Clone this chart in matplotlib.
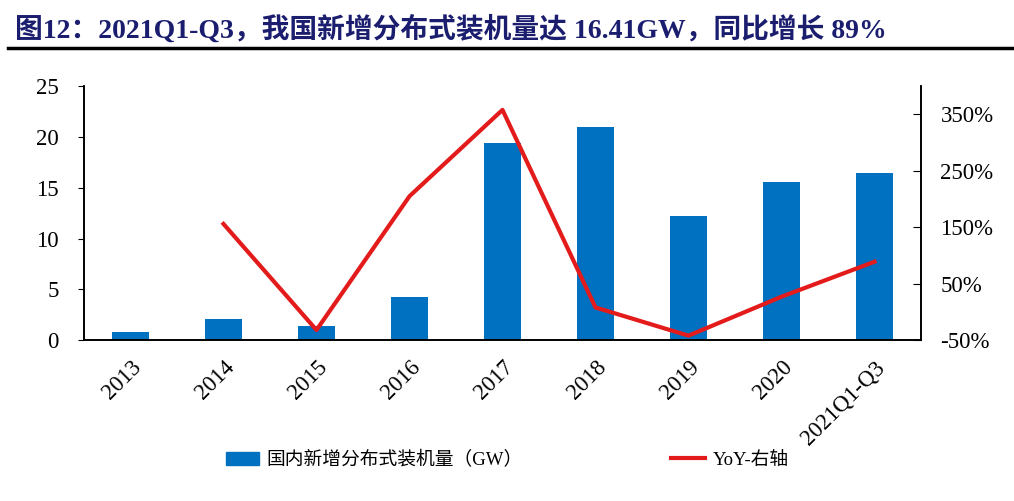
import matplotlib.pyplot as plt
from matplotlib.lines import Line2D
from matplotlib.patches import Patch

plt.rcParams['font.family'] = ['Liberation Serif', 'Noto Sans CJK SC']

categories = ['2013', '2014', '2015', '2016', '2017', '2018', '2019', '2020', '2021Q1-Q3']
capacity_gw = [0.80, 2.05, 1.39, 4.24, 19.44, 20.96, 12.20, 15.52, 16.41]
yoy_pct = [None, 156, -32, 205, 358, 8, -42, 27, 89]

bar_color = '#0070C0'
line_color = '#E31B1B'

fig = plt.figure(figsize=(10.14, 5.01), dpi=100)
ax = fig.add_axes([0.0828, 0.321, 0.8255, 0.507])
ax2 = ax.twinx()

x = list(range(len(categories)))
ax.bar(x, capacity_gw, width=0.4, color=bar_color, zorder=2)
xs = [i for i, v in zip(x, yoy_pct) if v is not None]
ys = [v for v in yoy_pct if v is not None]
ax2.plot(xs, ys, color=line_color, lw=3, zorder=3)

ax.set_xlim(-0.5, len(categories) - 0.5)
ax.set_ylim(0, 25)
ax.set_yticks([0, 5, 10, 15, 20, 25])
ax2.set_ylim(-50, 400)
ax2.set_yticks([-50, 50, 150, 250, 350])
ax2.set_yticklabels([f'{v}%' for v in [-50, 50, 150, 250, 350]])

ax.set_xticks(x)
ax.set_xticklabels(categories, rotation=45, ha='right', rotation_mode='anchor')
ax.tick_params(axis='x', length=0, pad=12, labelsize=16.5)
ax.tick_params(axis='y', direction='out', length=4, labelsize=16.5, pad=14)
ax2.tick_params(axis='y', direction='in', length=6, labelsize=16.5, pad=14)

for a in (ax, ax2):
    a.spines['top'].set_visible(False)
    for s in a.spines.values():
        s.set_linewidth(1.2)
        s.set_color('black')
ax2.set_zorder(ax.get_zorder() + 1)
ax2.patch.set_visible(False)

fig.text(0.015, 0.94, '图12：2021Q1-Q3，我国新增分布式装机量达 16.41GW，同比增长 89%',
         fontsize=20, fontweight='bold', color='#1B1E6E', va='center')
fig.add_artist(Line2D([0.008, 1.0], [0.905, 0.905], color='black', lw=2.5))

handles = [Patch(color=bar_color), Line2D([0], [0], color=line_color, lw=3)]
labels = ['国内新增分布式装机量（GW）', 'YoY-右轴']
fig.legend(handles, labels, loc='center', bbox_to_anchor=(0.5, 0.082), ncol=2,
           frameon=False, fontsize=13.5, handlelength=1.8, columnspacing=7.9,
           handletextpad=0.4)

fig.savefig('out.png', dpi=100)
